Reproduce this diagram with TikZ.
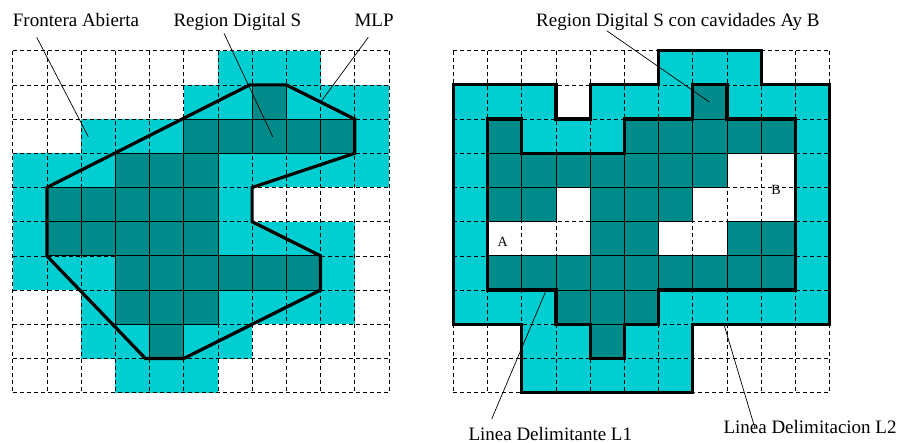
\documentclass[tikz,border=0pt]{standalone}
\usepackage{fontspec}
\setmainfont{Liberation Serif}
\definecolor{lightc}{HTML}{00CED1}
\definecolor{darkc}{HTML}{008B8B}
\begin{document}
\begin{tikzpicture}[x=1pt,y=-1pt,
  lbl/.style={font=\fontsize{19}{23}\selectfont, inner sep=0pt, anchor=base west},
  cavlbl/.style={font=\fontsize{14}{17}\selectfont, inner sep=0pt, anchor=base},
  leader/.style={draw=black, line width=0.7pt},
  gridline/.style={draw=black, line width=0.7pt, dash pattern=on 4pt off 3pt},
  darkcell/.style={fill=darkc, draw=black, line width=0.8pt},
  border/.style={draw=black, line width=3.2pt, line join=miter},
]
\useasboundingbox (0,0) rectangle (901,443);

% ---------- left: digital region, open frontier and MLP ----------
\begin{scope}[shift={(12.7,50.7)}, x=34.2pt, y=-34.2pt]
  \foreach \r/\a/\b in {0/6/8, 1/5/10, 2/2/10, 3/0/10, 4/0/6, 5/0/9, 6/0/9, 7/2/9, 8/2/6, 9/3/5}
    \fill[lightc] (\a,\r) rectangle (\b+1,\r+1);
  \foreach \i in {0,...,11} \draw[gridline] (\i,0) -- (\i,10);
  \foreach \j in {0,...,10} \draw[gridline] (0,\j) -- (11,\j);
  \foreach \r/\a/\b in {1/7/7, 2/5/9, 3/3/5, 4/1/5, 5/1/5, 6/3/8, 7/3/5, 8/4/4}
    \foreach \c in {\a,...,\b} \filldraw[darkcell] (\c,\r) rectangle ++(1,1);
  \draw[border] (6.93,1) -- (8,1) -- (10,2) -- (10,3) -- (7,4) -- (7,5) -- (9,6)
    -- (9,7) -- (5,9) -- (3.88,9) -- (1,6) -- (1,4) -- cycle;
\end{scope}

% ---------- right: region with cavities A and B, lines L1 and L2 ----------
\begin{scope}[shift={(453.3,50.7)}, x=34.2pt, y=-34.2pt]
  \foreach \r/\a/\b in {0/6/8, 1/0/2, 1/4/10, 2/0/10, 3/0/7, 3/10/10, 4/0/2, 4/4/6,
                        4/10/10, 5/0/0, 5/4/5, 5/8/10, 6/0/10, 7/0/10, 8/2/6, 9/2/6}
    \fill[lightc] (\a,\r) rectangle (\b+1,\r+1);
  \foreach \i in {0,...,11} \draw[gridline] (\i,0) -- (\i,10);
  \foreach \j in {0,...,10} \draw[gridline] (0,\j) -- (11,\j);
  \foreach \r/\a/\b in {1/7/7, 2/1/1, 2/5/9, 3/1/7, 4/1/2, 4/4/6, 5/4/5, 5/8/9,
                        6/1/9, 7/3/5, 8/4/4}
    \foreach \c in {\a,...,\b} \filldraw[darkcell] (\c,\r) rectangle ++(1,1);
  % L2: outer delimiting line
  \draw[border] (0,1) -- (3,1) -- (3,2) -- (4,2) -- (4,1) -- (6,1) -- (6,0) -- (9,0)
    -- (9,1) -- (11,1) -- (11,8) -- (7,8) -- (7,10) -- (2,10) -- (2,8) -- (0,8) -- cycle;
  % L1: inner delimiting line
  \draw[border] (1,2) -- (2,2) -- (2,3) -- (5,3) -- (5,2) -- (7,2) -- (7,1) -- (8,1)
    -- (8,2) -- (10,2) -- (10,7) -- (6,7) -- (6,8) -- (5,8) -- (5,9) -- (4,9) -- (4,8)
    -- (3,8) -- (3,7) -- (1,7) -- cycle;
\end{scope}

\node[cavlbl] (cavA) at (502.7,246.7) {A};
\node[cavlbl] (cavB) at (776,195) {B};

% ---------- labels ----------
\node[lbl] (fa)   at (12.7,26.7)  {Frontera Abierta};
\node[lbl] (rds)  at (173.3,26.7) {Region Digital S};
\node[lbl] (mlp)  at (354.3,26.7) {MLP};
\node[lbl] (rdsc) at (536,26.7)   {Region Digital S con cavidades Ay B};
\node[lbl] (l1)   at (468.3,440.7) {Linea Delimitante L1};
\node[lbl] (l2)   at (723.3,433.3) {Linea Delimitacion L2};

% ---------- leader lines ----------
\coordinate (faFoot)   at (36.7,37.3);
\coordinate (faTip)    at (88.3,136.7);
\coordinate (rdsFoot)  at (224,33.3);
\coordinate (rdsTip)   at (272.7,136.7);
\coordinate (mlpFoot)  at (368.3,37.3);
\coordinate (mlpTip)   at (321.7,100.7);
\coordinate (rdscFoot) at (606.7,30.7);
\coordinate (rdscTip)  at (709.3,102);
\coordinate (lOneHead) at (491.7,419);
\coordinate (lOneTip)  at (545.3,292.3);
\coordinate (lTwoHead) at (755,428.3);
\coordinate (lTwoTip)  at (724.3,325.7);

\draw[leader] (faFoot) -- (faTip);
\draw[leader] (rdsFoot) -- (rdsTip);
\draw[leader] (mlpFoot) -- (mlpTip);
\draw[leader] (rdscFoot) -- (rdscTip);
\draw[leader] (lOneHead) -- (lOneTip);
\draw[leader] (lTwoHead) -- (lTwoTip);
\end{tikzpicture}
\end{document}
